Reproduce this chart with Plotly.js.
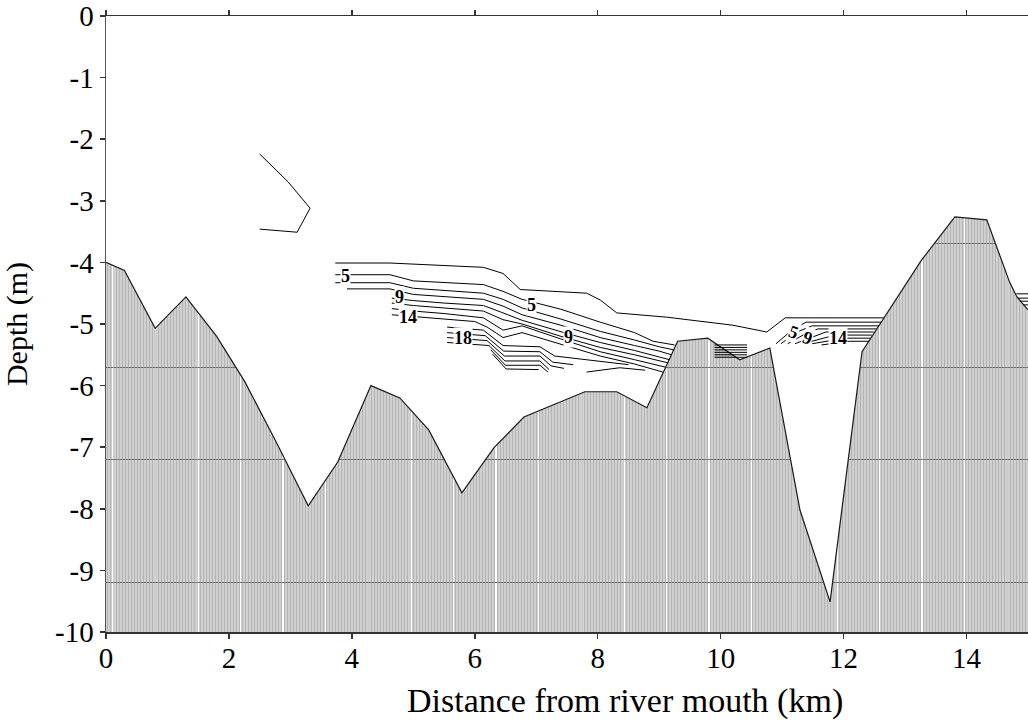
<!DOCTYPE html>
<html>
<head>
<meta charset="utf-8">
<script src="https://cdn.plot.ly/plotly-3.0.1.min.js"></script>
<style>html,body{margin:0;padding:0;background:#fff}#chart{width:1028px;height:723px}</style>
</head>
<body>
<div id="chart"></div>
<script>
// Axis ranges and ticks
const xRange = [0, 15];
const yRange = [-10, 0];
const xTickVals = [0, 2, 4, 6, 8, 10, 12, 14];
const yTickVals = [0, -1, -2, -3, -4, -5, -6, -7, -8, -9, -10];
const yTickText = ['0', '-1', '-2', '-3', '-4', '-5', '-6', '-7', '-8', '-9', '-10'];
const gridDepths = [-3.7, -5.7, -7.2, -9.2];

// River bed profile (km, m)
const bathyX = [0, 0.3, 0.8, 1.3, 1.8, 2.26, 2.75, 3.29, 3.77, 4.31, 4.78, 5.25, 5.79, 6.31, 6.8, 7.27, 7.79, 8.31, 8.8, 9.3, 9.79, 10.31, 10.8, 11.29, 11.78, 12.3, 13.27, 13.81, 14.33, 14.7, 14.82, 15.0];
const bathyY = [-4.0, -4.13, -5.07, -4.56, -5.2, -5.94, -6.88, -7.95, -7.24, -6.0, -6.2, -6.72, -7.74, -7.01, -6.51, -6.31, -6.1, -6.1, -6.36, -5.28, -5.23, -5.58, -5.39, -8.02, -9.51, -5.45, -3.96, -3.26, -3.31, -4.32, -4.56, -4.77];

// Salinity isolines, left section (x km, depth m)
const leftLines = [
  [[3.73,-4.01],[4.62,-4.01],[6.14,-4.08],[6.46,-4.18],[6.74,-4.44],[7.82,-4.50],[8.04,-4.61],[8.31,-4.82],[9.13,-4.89],[10.2,-5.02],[10.75,-5.13],[11.05,-4.90],[12.65,-4.90]],
  [[3.73,-4.20],[4.62,-4.20],[5.0,-4.30],[5.5,-4.33],[6.14,-4.36],[6.46,-4.47],[6.77,-4.60],[7.4,-4.76],[8.04,-4.97],[8.6,-5.14],[8.9,-5.28],[9.25,-5.34]],
  [[3.73,-4.33],[4.62,-4.33],[5.0,-4.42],[5.5,-4.46],[6.14,-4.50],[6.46,-4.60],[6.77,-4.74],[7.4,-4.92],[8.04,-5.12],[8.6,-5.26],[9.0,-5.37],[9.24,-5.42]],
  [[3.92,-4.43],[4.62,-4.43],[5.0,-4.52],[5.5,-4.56],[6.14,-4.60],[6.46,-4.71],[6.77,-4.85],[7.4,-5.02],[8.04,-5.22],[8.6,-5.35],[9.0,-5.44],[9.2,-5.50]],
  [[4.65,-4.58],[5.0,-4.62],[5.5,-4.66],[6.14,-4.70],[6.46,-4.82],[6.77,-4.94],[7.52,-5.16],[8.04,-5.30],[8.6,-5.43],[9.17,-5.58]],
  [[4.65,-4.66],[5.0,-4.70],[5.5,-4.74],[6.14,-4.79],[6.46,-4.93],[6.77,-5.0],[7.4,-5.20],[8.04,-5.38],[8.6,-5.50],[9.14,-5.63]],
  [[4.65,-4.75],[5.0,-4.79],[5.5,-4.83],[6.14,-4.90],[6.46,-5.10],[6.77,-5.03],[7.39,-5.24],[8.04,-5.45],[8.6,-5.58],[9.1,-5.70]],
  [[4.65,-4.85],[5.0,-4.88],[5.5,-4.92],[6.0,-4.96],[6.2,-5.05],[6.46,-5.22],[6.77,-5.14],[7.39,-5.32],[8.04,-5.52],[8.6,-5.65],[9.06,-5.78]],
  [[5.55,-5.05],[6.14,-5.10],[6.46,-5.35],[7.06,-5.37],[7.30,-5.52],[8.04,-5.60],[8.5,-5.66]],
  [[5.55,-5.14],[6.17,-5.19],[6.47,-5.44],[7.06,-5.45],[7.27,-5.62],[7.6,-5.66]],
  [[5.55,-5.22],[6.2,-5.27],[6.48,-5.52],[7.06,-5.52],[7.24,-5.68],[7.45,-5.72]],
  [[5.55,-5.30],[6.23,-5.35],[6.49,-5.60],[7.06,-5.60],[7.21,-5.74]],
  [[6.26,-5.42],[6.50,-5.67],[7.06,-5.67],[7.19,-5.78]],
  [[6.29,-5.49],[6.51,-5.73],[7.04,-5.74]],
  [[7.82,-5.78],[8.36,-5.71],[8.77,-5.75]]
];
// Short isolines over the shoal near 10 km
const shoalLines = [
  [[9.9,-5.34],[10.43,-5.34]],
  [[9.9,-5.38],[10.43,-5.38]],
  [[9.9,-5.42],[10.43,-5.42]],
  [[9.9,-5.46],[10.43,-5.46]],
  [[9.9,-5.50],[10.43,-5.50]],
  [[9.9,-5.54],[10.43,-5.54]]
];
// Isolines in the section 11-12.6 km
const rightLines = [
  [[10.9,-5.32],[11.16,-5.10],[11.39,-4.97],[12.61,-4.97]],
  [[10.98,-5.32],[11.24,-5.13],[11.49,-5.03],[12.58,-5.03]],
  [[11.09,-5.32],[11.34,-5.18],[11.58,-5.08],[12.53,-5.08]],
  [[11.21,-5.32],[11.45,-5.23],[11.71,-5.13],[12.49,-5.13]],
  [[11.34,-5.32],[11.58,-5.26],[11.86,-5.18],[12.46,-5.18]],
  [[11.49,-5.32],[11.71,-5.28],[12.02,-5.23],[12.43,-5.23]],
  [[11.64,-5.34],[11.85,-5.31],[12.1,-5.28],[12.41,-5.28]]
];
// Isolines at the far right edge
const edgeLines = [
  [[14.81,-4.51],[15.0,-4.51]],
  [[14.84,-4.58],[15.0,-4.58]],
  [[14.87,-4.63],[15.0,-4.63]],
  [[14.92,-4.69],[15.0,-4.69]]
];
// Isolated isoline near 3 km
const upperLine = [[2.5,-2.24],[2.96,-2.69],[3.32,-3.12],[3.11,-3.51],[2.5,-3.46]];

// Contour labels
const labelText = ['5', '9', '14', '18', '5', '9', '5', '9', '14'];
const labelX = [3.89, 4.78, 4.92, 5.81, 6.93, 7.52, 11.18, 11.42, 11.91];
const labelY = [-4.22, -4.56, -4.88, -5.23, -4.69, -5.21, -5.13, -5.23, -5.23];
const labelAngle = [0, 0, 0, 0, 0, 0, 20, 20, 0];

const FONT = '"Liberation Serif", "Times New Roman", Times, serif';

const traces = [];
// water (white) region above the bed
traces.push({x: bathyX, y: bathyY, type: 'scatter', mode: 'lines', fill: 'tozeroy',
  fillcolor: '#ffffff', line: {width: 0, color: 'rgba(0,0,0,0)'}, hoverinfo: 'skip', showlegend: false});
// hatched bed
traces.push({x: bathyX.concat([xRange[1], xRange[0]]), y: bathyY.concat([yRange[0], yRange[0]]),
  type: 'scatter', mode: 'lines', fill: 'toself', fillcolor: 'rgba(0,0,0,0)',
  fillpattern: {shape: '|', size: 3, solidity: 0.34, fgcolor: '#9a9a9a', bgcolor: 'rgba(0,0,0,0)', fgopacity: 0.5},
  line: {width: 0, color: 'rgba(0,0,0,0)'}, hoverinfo: 'skip', showlegend: false});
// bed outline
traces.push({x: bathyX, y: bathyY, type: 'scatter', mode: 'lines',
  line: {width: 1.2, color: '#1a1a1a'}, hoverinfo: 'skip', showlegend: false});

function addLines(group) {
  group.forEach(function (pts) {
    traces.push({x: pts.map(p => p[0]), y: pts.map(p => p[1]), type: 'scatter', mode: 'lines',
      line: {width: 1, color: '#000'}, hoverinfo: 'skip', showlegend: false});
  });
}
addLines(leftLines);
addLines(shoalLines);
addLines(rightLines);
addLines(edgeLines);
addLines([upperLine]);

const annotations = labelText.map(function (t, i) {
  return {x: labelX[i], y: labelY[i], xref: 'x', yref: 'y', text: '<b>' + t + '</b>', showarrow: false,
    textangle: labelAngle[i], bgcolor: '#ffffff', borderpad: 0,
    font: {family: FONT, size: 18, color: '#000'}};
});
annotations.push({x: 0.5624, y: -0.112, xref: 'paper', yref: 'paper', text: 'Distance from river mouth (km)',
  showarrow: false, font: {family: FONT, size: 34, color: '#000'}, xanchor: 'center', yanchor: 'middle'});

const layout = {
  width: 1028, height: 723,
  margin: {l: 106, r: 0, t: 16, b: 91},
  paper_bgcolor: '#ffffff',
  plot_bgcolor: '#d0d0d0',
  showlegend: false,
  font: {family: FONT, color: '#000'},
  xaxis: {
    range: xRange, tickmode: 'array', tickvals: xTickVals,
    ticks: 'outside', ticklen: 5, tickwidth: 1.5, tickcolor: '#333',
    showline: true, linecolor: '#333', linewidth: 1.5, mirror: 'ticks',
    showgrid: false, zeroline: false, ticklabelstandoff: -5,
    tickfont: {family: FONT, size: 29, color: '#000'},
    minor: {tickmode: 'linear', tick0: 0.11, dtick: 0.693, showgrid: true, gridcolor: '#ffffff', gridwidth: 1.5, ticks: ''}
  },
  yaxis: {
    range: yRange, tickmode: 'array', tickvals: yTickVals, ticktext: yTickText,
    ticks: 'outside', ticklen: 5, tickwidth: 1.5, tickcolor: '#333',
    showline: true, linecolor: '#555', linewidth: 1.5,
    showgrid: false, zeroline: false,
    tickfont: {family: FONT, size: 29, color: '#000'},
    title: {text: 'Depth (m)', font: {family: FONT, size: 30, color: '#000'}, standoff: 18},
    minor: {tickmode: 'array', tickvals: gridDepths, showgrid: true, gridcolor: '#707070', gridwidth: 1, ticks: ''}
  },
  annotations: annotations
};

Plotly.newPlot('chart', traces, layout, {displayModeBar: false, staticPlot: true});
</script>
</body>
</html>
